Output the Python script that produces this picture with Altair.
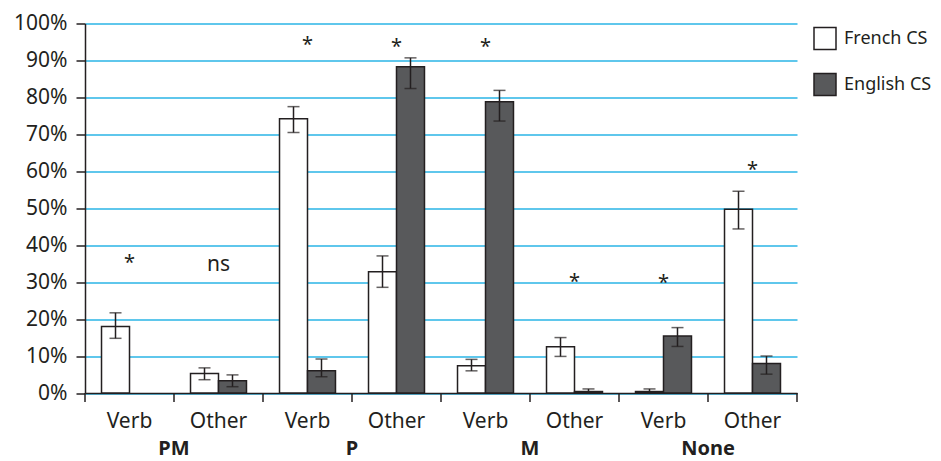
import altair as alt
import pandas as pd

groups = ["PM", "P", "M", "None"]
types = ["Verb", "Other"]
series = ["French CS", "English CS"]

french = [18.0, 5.3, 74.2, 32.8, 7.4, 12.5, 0.4, 49.7]
french_lo = [14.8, 3.6, 70.5, 28.6, 6.0, 9.9, 0.0, 44.4]
french_hi = [21.7, 6.8, 77.5, 37.1, 9.1, 15.0, 1.1, 54.6]
english = [0.0, 3.3, 6.0, 88.3, 78.8, 0.4, 15.4, 8.0]
english_lo = [None, 1.7, 4.4, 82.4, 73.6, 0.0, 12.6, 5.1]
english_hi = [None, 4.9, 9.2, 90.7, 81.9, 1.1, 17.7, 10.0]

ann_text = ["*", "ns", "*", "*", "*", "*", "*", "*"]
ann_y = [36.5, 34.6, 95.5, 95.0, 95.0, 31.5, 31.0, 61.7]

keys = [f"{g}_{t}" for g in groups for t in types]

rows = []
for i, k in enumerate(keys):
    rows.append(dict(key=k, series="French CS", value=french[i], lo=french_lo[i], hi=french_hi[i]))
    rows.append(dict(key=k, series="English CS", value=english[i], lo=english_lo[i], hi=english_hi[i]))
df = pd.DataFrame(rows)

ann_df = pd.DataFrame({"key": keys, "label": ann_text, "y": ann_y})
grp_df = pd.DataFrame({"group": groups, "key": [g + "_Other" for g in groups]})
key_df = pd.DataFrame({"key": keys})

W, H = 712, 369.5
INK = "#231f20"
FONT = "Noto Sans"

xscale = alt.Scale(type="band", domain=keys, paddingInner=0, paddingOuter=0)
x_axis = alt.Axis(title=None, labelExpr="split(datum.label, '_')[1]", labelAngle=0,
                  ticks=False, labelFontSize=21, labelPadding=17, labelColor=INK,
                  domainColor=INK, domainWidth=1.5, grid=False)
x_main = alt.X("key:N", scale=xscale, axis=x_axis)
xoff = alt.XOffset("series:N", scale=alt.Scale(domain=series, paddingInner=0, paddingOuter=0.59))
yscale = alt.Scale(domain=[0, 100], nice=False)
y_axis = alt.Axis(values=list(range(0, 101, 10)), labelExpr="datum.value + '%'",
                  labelOverlap=False, labelBound=False, tickCount=20,
                  grid=True, gridColor="#2ab4e6", gridWidth=1.5,
                  tickSize=9, tickColor=INK, tickWidth=1.5,
                  domainColor=INK, domainWidth=1.5,
                  labelFontSize=21, labelPadding=9, labelColor=INK)


def Y(field):
    return alt.Y(field, title=None, scale=yscale, axis=y_axis)


base = alt.Chart(df)

bars = base.transform_filter("datum.value > 0").mark_bar(stroke=INK, strokeWidth=1.5).encode(
    x=x_main, xOffset=xoff, y=Y("value:Q"),
    fill=alt.Fill("series:N", scale=alt.Scale(domain=series, range=["#ffffff", "#58595b"]),
                  legend=alt.Legend(title=None, orient="none", legendX=728, legendY=3,
                                    symbolType="square", symbolSize=484,
                                    symbolStrokeColor=INK, symbolStrokeWidth=1.5,
                                    labelFontSize=18, labelOffset=7, rowPadding=18,
                                    labelColor=INK)),
)

err = base.transform_filter("isValid(datum.lo)").mark_rule(color=INK, strokeWidth=1.5).encode(
    x=alt.X("key:N", scale=xscale, axis=x_axis), xOffset=xoff,
    y=Y("lo:Q"), y2="hi:Q",
)
cap_hi = base.transform_filter("isValid(datum.hi)").mark_tick(
    color=INK, thickness=1.5, size=12, orient="horizontal").encode(
    x=alt.X("key:N", scale=xscale, axis=x_axis), xOffset=xoff, y=Y("hi:Q"))
cap_lo = base.transform_filter("isValid(datum.lo)").mark_tick(
    color=INK, thickness=1.5, size=12, orient="horizontal").encode(
    x=alt.X("key:N", scale=xscale, axis=x_axis), xOffset=xoff, y=Y("lo:Q"))

xticks = alt.Chart(key_df).mark_rule(color=INK, strokeWidth=1.5).encode(
    x=alt.X("key:N", scale=xscale, axis=x_axis, bandPosition=0),
    y=alt.value(H), y2=alt.value(H + 9),
)
xtick_end = alt.Chart(key_df).transform_filter(
    alt.datum.key == keys[-1]).mark_rule(color=INK, strokeWidth=1.5).encode(
    x=alt.X("key:N", scale=xscale, axis=x_axis, bandPosition=1),
    y=alt.value(H), y2=alt.value(H + 9),
)

grp_text = alt.Chart(grp_df).mark_text(
    fontWeight="bold", fontSize=20, baseline="alphabetic", color=INK, font=FONT).encode(
    x=alt.X("key:N", scale=xscale, axis=x_axis, bandPosition=0),
    y=alt.value(H + 62),
    text="group:N",
)

star = alt.Chart(ann_df).transform_filter(alt.datum.label == "*").mark_text(
    fontSize=20, baseline="middle", dy=5, color=INK, font=FONT).encode(
    x=alt.X("key:N", scale=xscale, axis=x_axis), y=Y("y:Q"), text="label:N")
ns = alt.Chart(ann_df).transform_filter(alt.datum.label != "*").mark_text(
    fontSize=21, baseline="middle", color=INK, font=FONT).encode(
    x=alt.X("key:N", scale=xscale, axis=x_axis), y=Y("y:Q"), text="label:N")

chart = alt.layer(bars, err, cap_hi, cap_lo, xticks, xtick_end, grp_text, star, ns).properties(
    width=W, height=H,
    padding={"left": 77, "top": 15.5, "right": 136, "bottom": 68},
    autosize=alt.AutoSizeParams(type="none"),
).configure(font=FONT).configure_view(stroke=None)

chart.save("out.html", embed_options={"renderer": "svg", "actions": False})
